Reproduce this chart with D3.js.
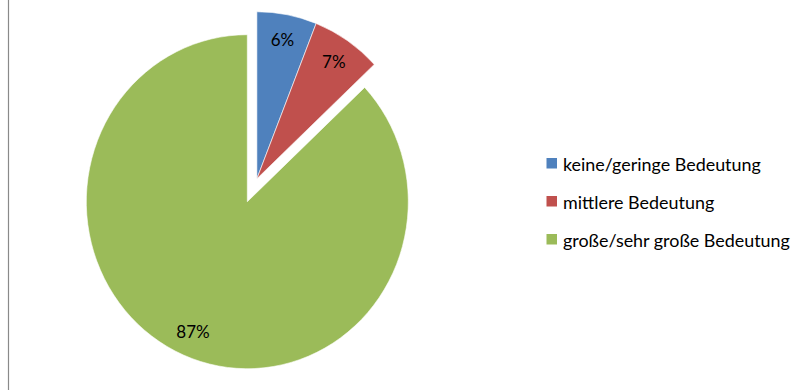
<!DOCTYPE html>
<html>
<head>
<meta charset="utf-8">
<script src="https://cdn.jsdelivr.net/npm/d3@7"></script>
<style>
  html, body { margin: 0; padding: 0; background: #fff; }
  svg { display: block; font-family: Lato, "Open Sans", sans-serif; }
</style>
</head>
<body>
<svg id="chart" width="798" height="390"></svg>
<script>
// Importance ratings, share of answers in percent
const categories = ["keine/geringe Bedeutung", "mittlere Bedeutung", "große/sehr große Bedeutung"];
const values = [6, 7, 87];
const labels = ["6%", "7%", "87%"];
const colors = ["#4F81BD", "#C0504D", "#9BBB59"];
const exploded = [true, true, false];

const svg = d3.select("#chart");

// chart area left border
svg.append("line")
  .attr("x1", 8.5).attr("x2", 8.5)
  .attr("y1", 0).attr("y2", 390)
  .attr("stroke", "#8a8a8a").attr("stroke-width", 1.2);

const cx = 247.3, cy = 201.7;
const R = 167;
const sx = 161 / 167;          // plot area is slightly narrower than tall
const explodeDist = 25;

const pie = d3.pie().sort(null).value(d => d)(values);
const arc = d3.arc().innerRadius(0).outerRadius(R);

// the exploded slices move together along the bisector of their combined span
const exA0 = d3.min(pie.filter((p, i) => exploded[i]), p => p.startAngle);
const exA1 = d3.max(pie.filter((p, i) => exploded[i]), p => p.endAngle);
const exMid = (exA0 + exA1) / 2;
const exDx = Math.sin(exMid) * explodeDist;
const exDy = -Math.cos(exMid) * explodeDist;

const offset = i => exploded[i] ? [exDx, exDy] : [0, 0];

const g = svg.append("g");
g.selectAll("path.slice")
  .data(pie)
  .join("path")
  .attr("class", "slice")
  .attr("transform", (d, i) => {
    const [dx, dy] = offset(i);
    return `translate(${cx + dx * sx},${cy + dy}) scale(${sx},1)`;
  })
  .attr("d", arc)
  .attr("fill", (d, i) => colors[i])
  .attr("stroke", "#ffffff")
  .attr("stroke-width", 0.6);

// data labels
const labelR = R * 0.85;
svg.selectAll("text.lbl")
  .data(pie)
  .join("text")
  .attr("class", "lbl")
  .attr("x", (d, i) => {
    const a = (d.startAngle + d.endAngle) / 2;
    const [dx] = offset(i);
    return cx + (dx + Math.sin(a) * labelR) * sx;
  })
  .attr("y", (d, i) => {
    const a = (d.startAngle + d.endAngle) / 2;
    const [, dy] = offset(i);
    return cy + dy - Math.cos(a) * labelR;
  })
  .attr("text-anchor", "middle")
  .attr("dominant-baseline", "central")
  .attr("font-size", 17)
  .attr("fill", "#000")
  .text((d, i) => labels[i]);

// legend
const legY = d3.scalePoint().domain(categories).range([163.5, 239.5]);
const leg = svg.append("g");
const items = leg.selectAll("g")
  .data(categories)
  .join("g")
  .attr("transform", d => `translate(546,${legY(d)})`);
items.append("rect")
  .attr("x", 0.5).attr("y", -5.5)
  .attr("width", 10.5).attr("height", 10.5)
  .attr("fill", (d, i) => colors[i]);
const legText = items.append("text")
  .attr("x", 17).attr("y", 0)
  .attr("dominant-baseline", "central")
  .attr("font-size", 16)
  .attr("fill", "#000")
  .text(d => d);

// size the legend text so the first entry spans its intended width
const w0 = legText.node().getComputedTextLength();
const fs = 16 * 198 / w0;
legText.attr("font-size", fs);
</script>
</body>
</html>
